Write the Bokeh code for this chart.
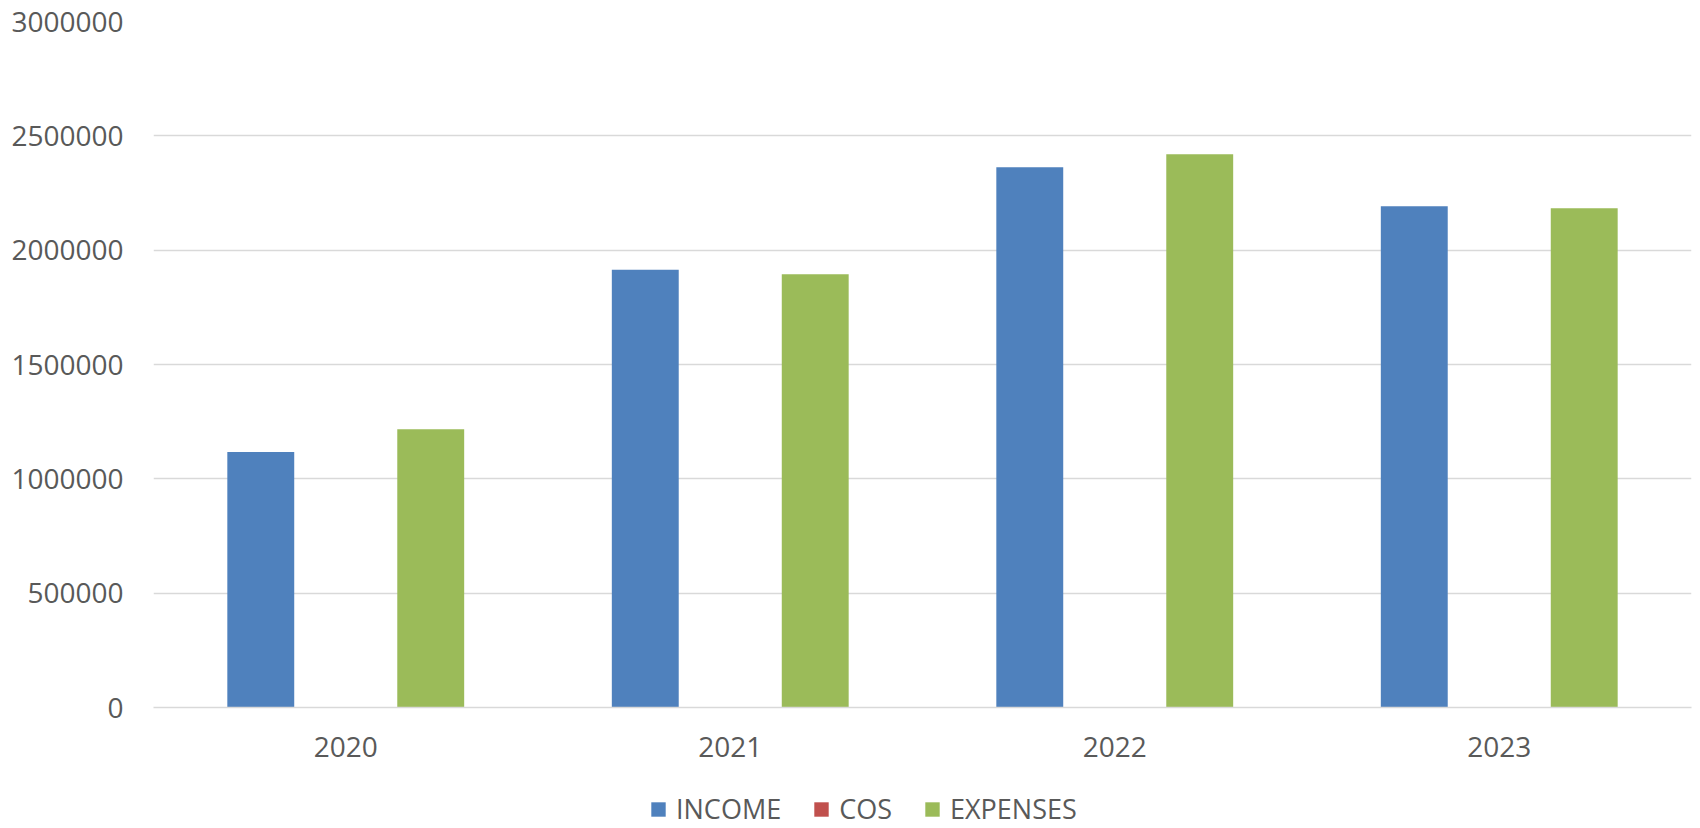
from bokeh.plotting import figure
from bokeh.layouts import column
from bokeh.models import ColumnDataSource, Legend, LegendItem, BasicTickFormatter, FixedTicker, Range1d
from bokeh.transform import dodge
from bokeh.embed import file_html
from bokeh.resources import INLINE

years = ["2020", "2021", "2022", "2023"]
income = [1117000, 1914000, 2363000, 2192000]
cos = [0, 0, 0, 0]
expenses = [1217000, 1895000, 2419000, 2183000]
y_ticks = [0, 500000, 1000000, 1500000, 2000000, 2500000, 3000000]
series = ["INCOME", "COS", "EXPENSES"]
colors = ["#4F81BD", "#C0504D", "#9BBB59"]
offsets = [-0.221, 0.0, 0.221]
fields = ["income", "cos", "expenses"]

src = ColumnDataSource(dict(years=years, income=income, cos=cos, expenses=expenses))

FONT = "Open Sans"
TXT = "#595959"

p = figure(x_range=years, y_range=Range1d(0, 3000000), width=1692, height=780,
           output_backend="svg", toolbar_location=None,
           min_border_left=153, min_border_right=1, min_border_top=21, min_border_bottom=73)
p.outline_line_color = None

for f, c, o in zip(fields, colors, offsets):
    p.vbar(x=dodge("years", o, range=p.x_range), top=f, width=0.174,
           source=src, fill_color=c, line_color=None)

p.xgrid.grid_line_color = None
p.ygrid.grid_line_color = "#D9D9D9"
p.ygrid.grid_line_width = 1.3

p.yaxis.ticker = FixedTicker(ticks=y_ticks)
p.yaxis.formatter = BasicTickFormatter(use_scientific=False)
p.yaxis.axis_line_color = None
p.yaxis.major_tick_line_color = None
p.yaxis.minor_tick_line_color = None
p.yaxis.major_label_standoff = 24
p.yaxis.major_label_text_font = FONT
p.yaxis.major_label_text_font_size = "28px"
p.yaxis.major_label_text_color = TXT

p.xaxis.axis_line_color = "#D9D9D9"
p.xaxis.axis_line_width = 1.5
p.xaxis.major_tick_line_color = None
p.xaxis.minor_tick_line_color = None
p.xaxis.major_label_standoff = 23
p.xaxis.major_label_text_font = FONT
p.xaxis.major_label_text_font_size = "28px"
p.xaxis.major_label_text_color = TXT

# legend strip below the chart
lf = figure(x_range=years, y_range=Range1d(5e6, 6e6), width=1692, height=40,
            output_backend="svg", toolbar_location=None,
            x_axis_location=None, y_axis_location=None, min_border=0)
lf.outline_line_color = None
lf.grid.grid_line_color = None
items = []
for f, c, o, s in zip(fields, colors, offsets, series):
    r = lf.vbar(x=dodge("years", o, range=lf.x_range), top=f, width=0.174,
                source=src, fill_color=c, line_color=None)
    items.append(LegendItem(label=s, renderers=[r]))

legend = Legend(items=items, orientation="horizontal", location=(496, -7),
                glyph_width=18, glyph_height=18, label_standoff=9, spacing=31,
                label_text_font=FONT, label_text_font_size="27px", label_text_color=TXT,
                border_line_color=None, background_fill_alpha=0, padding=0, margin=0)
lf.add_layout(legend, "center")

layout = column(p, lf, spacing=0)
open("out.html", "w").write(file_html(layout, INLINE))
